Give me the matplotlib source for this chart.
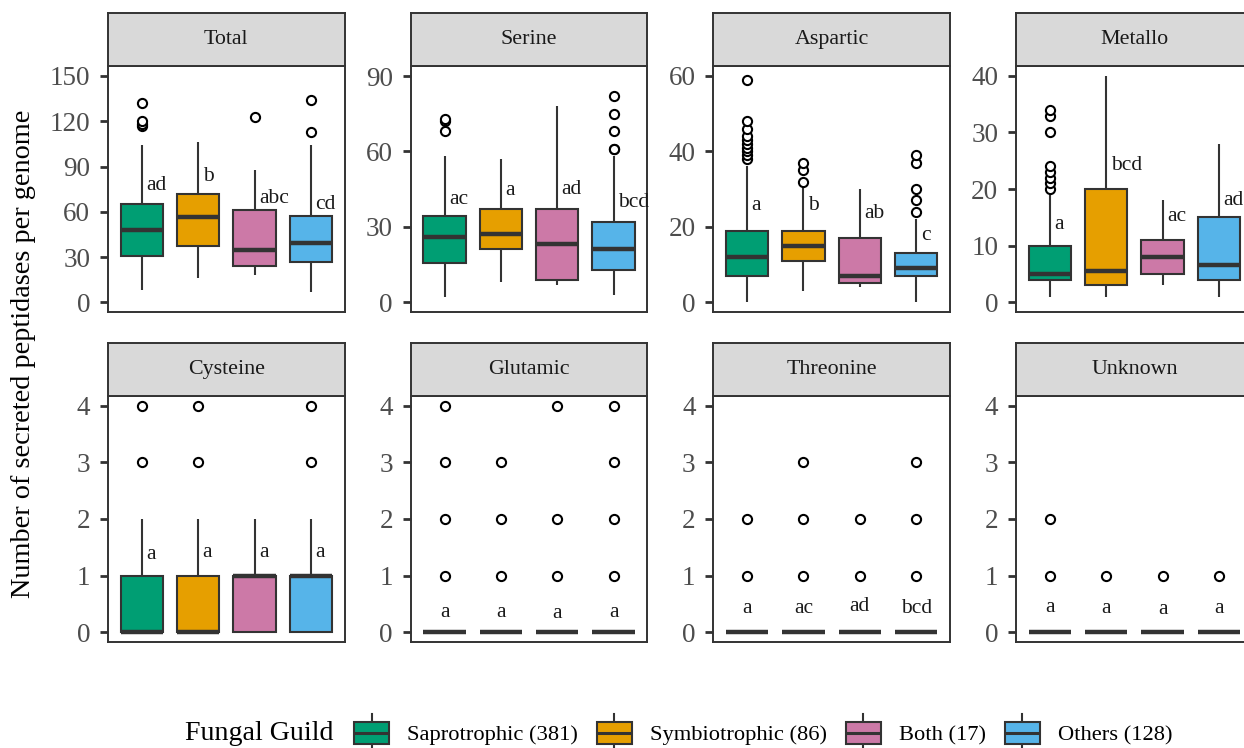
import matplotlib
matplotlib.use("Agg")
import matplotlib.pyplot as plt
from matplotlib.patches import Rectangle, Patch
from matplotlib.lines import Line2D
from matplotlib.legend_handler import HandlerBase

plt.rcParams['font.family'] = ['Liberation Serif', 'DejaVu Serif']

# ---- data -------------------------------------------------------------
guilds = ["Saprotrophic (381)", "Symbiotrophic (86)", "Both (17)", "Others (128)"]
guild_colors = ["#009E73", "#E69F00", "#CC79A7", "#56B4E9"]

# each box: lower whisker, Q1, median, Q3, upper whisker
total_box = [[8, 31, 48, 65, 104], [16, 37.5, 56.5, 72, 106],
             [18, 24, 35, 61, 88], [7, 27, 39, 57.5, 104]]
total_out = [[117, 118, 120, 132], [], [123], [113, 134]]
total_letters = ["ad", "b", "abc", "cd"]
total_letter_y = [77.7, 83.2, 69, 65]

serine_box = [[2, 15.5, 26, 34.5, 58], [8, 21, 27, 37, 57],
              [7, 9, 23, 37, 78], [3, 13, 21, 32, 58]]
serine_out = [[68, 72, 73], [], [], [61, 61, 68, 75, 82]]
serine_letters = ["ac", "a", "ad", "bcd"]
serine_letter_y = [41, 44.3, 44.7, 39.6]

aspartic_box = [[0, 7, 12, 19, 36], [3, 11, 15, 19, 30.5],
                [4, 5, 7, 17, 30], [0, 7, 9, 13, 22]]
aspartic_out = [[38, 39, 40, 41, 42, 43, 44, 46, 48, 59], [32, 35, 37], [],
                [24, 27, 30, 37, 39]]
aspartic_letters = ["a", "b", "ab", "c"]
aspartic_letter_y = [25.6, 25.6, 23.6, 17.8]

metallo_box = [[1, 4, 5, 10, 19], [1, 3, 5.5, 20, 40],
               [3, 5, 8, 11, 18], [1, 4, 6.5, 15, 28]]
metallo_out = [[20, 21, 22, 23, 24, 30, 33, 34], [], [], []]
metallo_letters = ["a", "bcd", "ac", "ad"]
metallo_letter_y = [13.8, 24.1, 15.2, 18]

cysteine_box = [[0, 0, 0, 1, 2], [0, 0, 0, 1, 2], [0, 0, 1, 1, 2], [0, 0, 1, 1, 2]]
cysteine_out = [[3, 4], [3, 4], [], [3, 4]]
cysteine_letters = ["a", "a", "a", "a"]
cysteine_letter_y = [1.38, 1.4, 1.4, 1.4]

glutamic_box = [[0, 0, 0, 0, 0]] * 4
glutamic_out = [[1, 2, 3, 4], [1, 2, 3], [1, 2, 4], [1, 2, 3, 4]]
glutamic_letters = ["a", "a", "a", "a"]
glutamic_letter_y = [0.35, 0.35, 0.33, 0.35]

threonine_box = [[0, 0, 0, 0, 0]] * 4
threonine_out = [[1, 2], [1, 2, 3], [1, 2], [1, 2, 3]]
threonine_letters = ["a", "ac", "ad", "bcd"]
threonine_letter_y = [0.41, 0.42, 0.45, 0.42]

unknown_box = [[0, 0, 0, 0, 0]] * 4
unknown_out = [[1, 2], [1], [1], [1]]
unknown_letters = ["a", "a", "a", "a"]
unknown_letter_y = [0.43, 0.42, 0.40, 0.42]

panel_names = ["Total", "Serine", "Aspartic", "Metallo",
               "Cysteine", "Glutamic", "Threonine", "Unknown"]
panel_boxes = [total_box, serine_box, aspartic_box, metallo_box,
               cysteine_box, glutamic_box, threonine_box, unknown_box]
panel_outliers = [total_out, serine_out, aspartic_out, metallo_out,
                  cysteine_out, glutamic_out, threonine_out, unknown_out]
panel_letters = [total_letters, serine_letters, aspartic_letters, metallo_letters,
                 cysteine_letters, glutamic_letters, threonine_letters, unknown_letters]
panel_letter_y = [total_letter_y, serine_letter_y, aspartic_letter_y, metallo_letter_y,
                  cysteine_letter_y, glutamic_letter_y, threonine_letter_y, unknown_letter_y]
panel_ticks = [[0, 30, 60, 90, 120, 150], [0, 30, 60, 90], [0, 20, 40, 60],
               [0, 10, 20, 30, 40]] + [[0, 1, 2, 3, 4]] * 4
panel_ylim = [(-6.6, 156.8), (-4.0, 94.1), (-2.65, 62.7), (-1.77, 41.8)] + [(-0.18, 4.18)] * 4

# ---- layout (pixels) --------------------------------------------------
W, H = 1244, 748
fig = plt.figure(figsize=(W / 100, H / 100), dpi=100)
fig.patch.set_facecolor("white")

col_left = [108.0, 410.7, 713.3, 1016.0]
col_width = 236.7
row_strip_top = [13.3, 343.3]
row_panel_top = [65.7, 395.7]
row_panel_bottom = [312.3, 642.3]

DARK = "#333333"
TICKLAB = "#4D4D4D"


def frac_box(x0, y0, x1, y1):
    return [x0 / W, 1 - y1 / H, (x1 - x0) / W, (y1 - y0) / H]


for i, name in enumerate(panel_names):
    r, c = divmod(i, 4)
    x0 = col_left[c]
    x1 = x0 + col_width
    ax = fig.add_axes(frac_box(x0, row_panel_top[r], x1, row_panel_bottom[r]))
    sax = fig.add_axes(frac_box(x0, row_strip_top[r], x1, row_panel_top[r]))

    # strip
    sax.set_facecolor("#D9D9D9")
    sax.set_xticks([])
    sax.set_yticks([])
    for sp in sax.spines.values():
        sp.set_color(DARK)
        sp.set_linewidth(1.4)
    sax.text(0.5, 0.5, name, ha="center", va="center", fontsize=15.8,
             color="#1A1A1A", transform=sax.transAxes)

    stats = []
    for b, fl in zip(panel_boxes[i], panel_outliers[i]):
        stats.append(dict(whislo=b[0], q1=b[1], med=b[2], q3=b[3], whishi=b[4], fliers=fl))
    res = ax.bxp(stats, positions=[1, 2, 3, 4], widths=0.75, patch_artist=True,
                 showcaps=False,
                 boxprops=dict(edgecolor=DARK, linewidth=1.5),
                 whiskerprops=dict(color=DARK, linewidth=1.5, solid_capstyle="butt"),
                 medianprops=dict(color=DARK, linewidth=3.2, solid_capstyle="butt"),
                 flierprops=dict(marker="o", markerfacecolor="white",
                                 markeredgecolor="black", markersize=6.6,
                                 markeredgewidth=1.5, linestyle="none"))
    for patch, col in zip(res["boxes"], guild_colors):
        patch.set_facecolor(col)
        patch.set_zorder(2)
    for w in res["whiskers"]:
        w.set_zorder(1.5)
    for m in res["medians"]:
        m.set_zorder(3)
    for f in res["fliers"]:
        f.set_zorder(4)

    # significance letters
    left_style = i < 5
    for k, (lab, ly) in enumerate(zip(panel_letters[i], panel_letter_y[i])):
        xpos = k + 1 + (0.08 if left_style else 0.0)
        ax.text(xpos, ly, lab, ha="left" if left_style else "center", va="center",
                fontsize=15.5, color="#1A1A1A", zorder=5)

    ax.set_xlim(0.4, 4.6)
    ax.set_ylim(*panel_ylim[i])
    ax.set_yticks(panel_ticks[i])
    ax.set_yticklabels([str(t) for t in panel_ticks[i]])
    ax.set_xticks([])
    ax.tick_params(axis="y", length=5.8, width=2.0, color=DARK, labelcolor=TICKLAB,
                   labelsize=19.5, pad=7)
    for sp in ax.spines.values():
        sp.set_color(DARK)
        sp.set_linewidth(1.4)
    ax.set_facecolor("white")

# y-axis title
fig.text(24 / W, 1 - 354 / H, "Number of secreted peptidases per genome",
         rotation=90, ha="center", va="center", fontsize=20.3, color="black")


# ---- legend -------------------------------------------------------------
class MiniBoxHandler(HandlerBase):
    def create_artists(self, legend, orig_handle, xdescent, ydescent, width, height,
                       fontsize, trans):
        cx = width / 2 - xdescent
        cy = height / 2 - ydescent
        bh = 15.8 / 2
        wh = 13.7
        line = Line2D([cx, cx], [cy - wh, cy + wh], color=DARK, linewidth=1.5,
                      transform=trans)
        rect = Rectangle((-xdescent, cy - bh), width, 2 * bh,
                         facecolor=orig_handle.get_facecolor(), edgecolor=DARK,
                         linewidth=1.5, transform=trans)
        med = Line2D([-xdescent, width - xdescent], [cy, cy], color=DARK,
                     linewidth=2.2, solid_capstyle="butt", transform=trans)
        return [line, rect, med]


handles = [Patch(facecolor=c) for c in guild_colors]
fs = 16.2
fig.text(185 / W, 1 - 733 / H, "Fungal Guild", ha="left", va="center",
         fontsize=20.2, color="black")
fig.legend(handles, guilds, handler_map={Patch: MiniBoxHandler()},
           loc="center left", bbox_to_anchor=(354 / W, 1 - 733 / H),
           ncol=4, frameon=False, fontsize=fs, borderpad=0, borderaxespad=0,
           handlelength=35 / (fs * 100 / 72), handleheight=38 / (fs * 100 / 72),
           handletextpad=18 / (fs * 100 / 72), columnspacing=19 / (fs * 100 / 72))

fig.savefig("out.png", dpi=100)
